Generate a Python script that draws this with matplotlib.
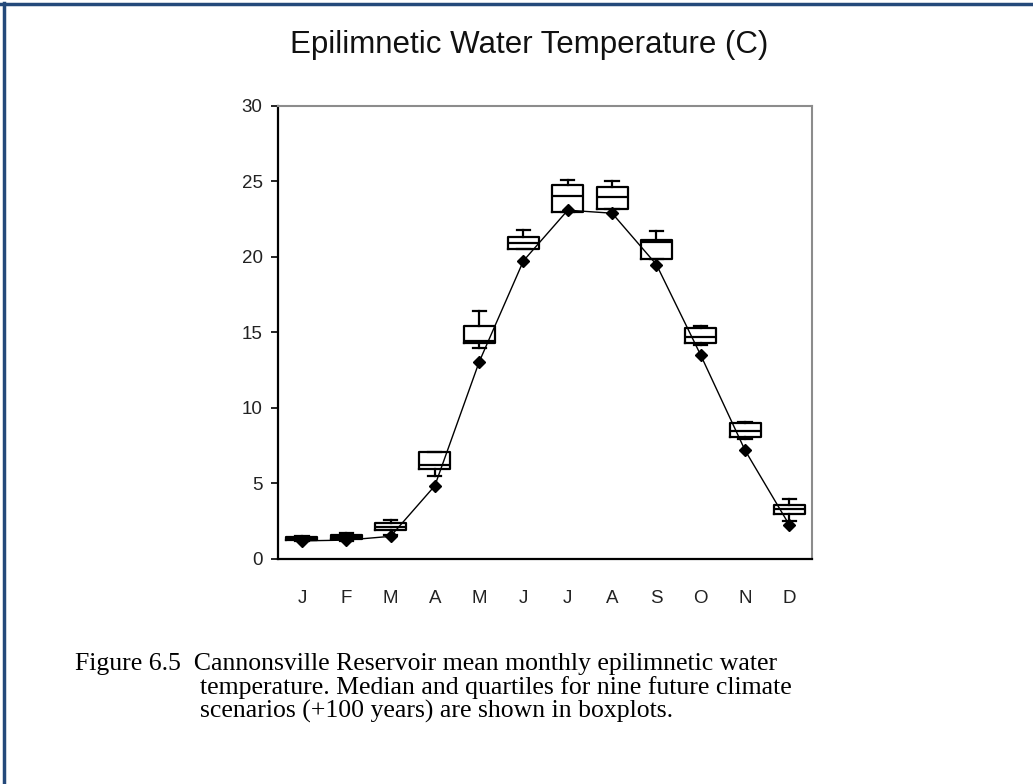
import matplotlib.pyplot as plt
from matplotlib.lines import Line2D
import numpy as np

# monthly epilimnetic temperature, deg C
months = ['J', 'F', 'M', 'A', 'M', 'J', 'J', 'A', 'S', 'O', 'N', 'D']
baseline = [1.2, 1.25, 1.5, 4.85, 13.05, 19.75, 23.1, 22.9, 19.5, 13.5, 7.2, 2.25]

# nine future climate scenarios (+100 yr): boxplot statistics
whisk_lo = [1.2, 1.2, 1.6, 5.5, 13.95, 20.5, 22.95, 23.2, 19.85, 14.2, 7.95, 2.5]
q1 = [1.25, 1.3, 1.9, 5.95, 14.3, 20.5, 22.95, 23.2, 19.85, 14.3, 8.05, 2.95]
median = [1.35, 1.45, 2.15, 6.25, 14.45, 20.9, 24.05, 24.0, 21.0, 14.7, 8.5, 3.3]
q3 = [1.45, 1.6, 2.4, 7.1, 15.4, 21.3, 24.8, 24.65, 21.1, 15.3, 9.0, 3.6]
whisk_hi = [1.5, 1.7, 2.6, 7.1, 16.4, 21.8, 25.1, 25.0, 21.7, 15.45, 9.05, 4.0]

stats = [dict(label=m, whislo=a, q1=b, med=c, q3=d, whishi=e)
         for m, a, b, c, d, e in zip(months, whisk_lo, q1, median, q3, whisk_hi)]
pos = np.arange(1, len(months) + 1)

plt.rcParams['font.family'] = ['Liberation Sans', 'DejaVu Sans']

fig = plt.figure(figsize=(10.33, 7.84), dpi=100)
ax = fig.add_axes([0.2691, 0.2870, 0.5169, 0.5778])

ax.plot(pos, baseline, color='black', lw=1.0, marker='D', markersize=6,
        markerfacecolor='black', markeredgecolor='black', zorder=2)

line_kw = dict(color='black', linewidth=1.6)
ax.bxp(stats, positions=pos, widths=0.7, capwidths=0.3, showfliers=False,
       boxprops=line_kw, whiskerprops=line_kw, capprops=line_kw,
       medianprops=line_kw, manage_ticks=False, zorder=3)

ax.set_xlim(0.46, 12.51)
ax.set_ylim(0, 30)
ax.set_yticks(range(0, 31, 5))
ax.set_xticks(pos)
ax.set_xticklabels(months)
ax.tick_params(axis='x', length=0, pad=22, labelsize=13.5, labelcolor='#222222')
ax.tick_params(axis='y', length=5, width=1.2, pad=6, labelsize=13.5, labelcolor='#222222')

for side in ('left', 'bottom'):
    ax.spines[side].set_color('black')
    ax.spines[side].set_linewidth(1.6)
for side in ('top', 'right'):
    ax.spines[side].set_color('#8c8c8c')
    ax.spines[side].set_linewidth(1.5)

fig.text(0.5126, 1 - 45 / 784, 'Epilimnetic Water Temperature (C)',
         ha='center', va='center', fontsize=22.5, color='#111111')

# caption, three lines with a hanging indent
caption_font = ['Liberation Serif', 'DejaVu Serif']
caption = [
    (75, 670, 'Figure 6.5  Cannonsville Reservoir mean monthly epilimnetic water'),
    (200, 694, 'temperature. Median and quartiles for nine future climate'),
    (200, 718, 'scenarios (+100 years) are shown in boxplots.'),
]
for x, y, line in caption:
    fig.text(x / 1033, 1 - y / 784, line, ha='left', va='baseline',
             fontsize=18.5, family=caption_font)

# page frame (top and left edges only)
frame = '#24497a'
fig.add_artist(Line2D([0, 1], [1 - 4 / 784, 1 - 4 / 784], color=frame, lw=2.5,
                      transform=fig.transFigure))
fig.add_artist(Line2D([4 / 1033, 4 / 1033], [0, 1 - 3 / 784], color=frame, lw=2.5,
                      transform=fig.transFigure))

fig.savefig('out.png', dpi=100)
